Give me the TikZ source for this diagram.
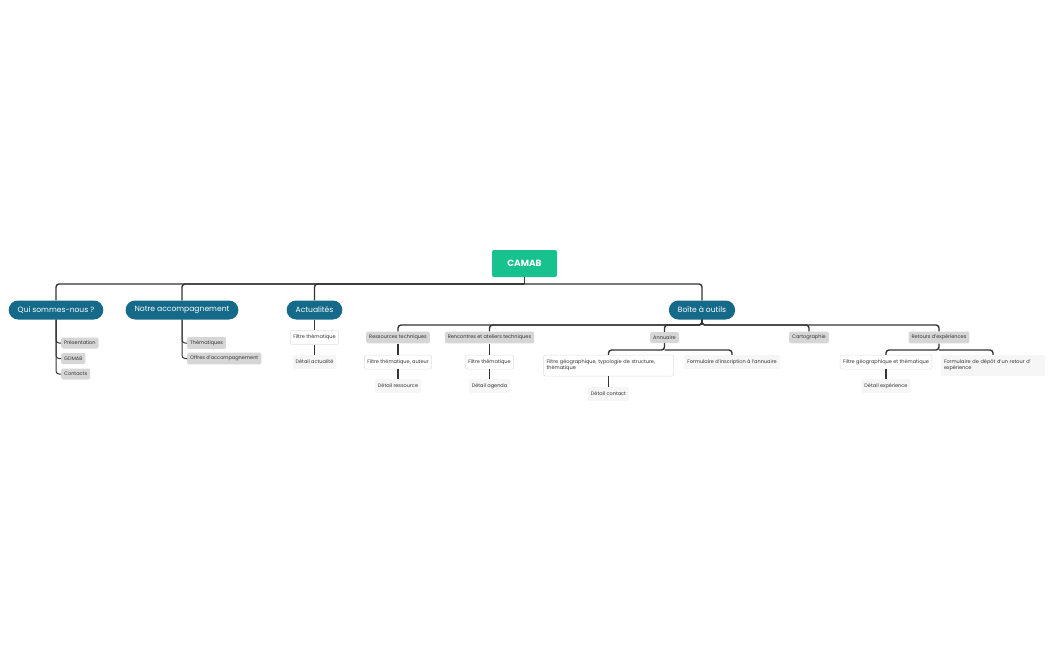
\documentclass[tikz,border=0pt]{standalone}
\usepackage{fontspec}
\setmainfont{Poppins}
\usetikzlibrary{calc}
\definecolor{camabgreen}{HTML}{17C28E}
\definecolor{camabblue}{HTML}{156A89}
\definecolor{leafgray}{HTML}{D6D6D6}
\definecolor{leaflight}{HTML}{F6F6F6}
\definecolor{linegray}{HTML}{333333}
\tikzset{
  root/.style = {fill=camabgreen, text=white, font=\fontsize{9}{10}\selectfont\bfseries, minimum width=65pt, minimum height=27pt, rounded corners=2pt},
  main/.style = {fill=camabblue, text=white, font=\fontsize{7.6}{9}\selectfont, minimum height=19pt, inner xsep=9pt, rounded corners=9.5pt},
  tag/.style = {fill=leafgray, text=black!80, font=\fontsize{5}{6}\selectfont, minimum height=11pt, inner xsep=3pt, rounded corners=2pt},
  box/.style = {fill=white, draw=black!12, line width=0.5pt, text=black!80, font=\fontsize{5}{6}\selectfont, minimum height=14pt, inner xsep=3pt, rounded corners=2pt},
  soft/.style = {fill=leaflight, text=black!80, font=\fontsize{5}{6}\selectfont, minimum height=14pt, inner xsep=3pt, rounded corners=2pt},
  conn/.style = {draw=linegray, line width=1.4pt, rounded corners=3pt},
}
\begin{document}
\begin{tikzpicture}[x=1pt, y=-1pt]
  \useasboundingbox (0,0) rectangle (1050,650);
  % root and first level
  \node[root] (camab) at (524.5,263.5) {CAMAB};
  \node[main] (qui) at (56,310) {Qui sommes-nous ?};
  \node[main] (notre) at (182,310) {Notre accompagnement};
  \node[main] (actu) at (314.5,310) {Actualités};
  \node[main] (boite) at (702,310) {Boîte à outils};
  \coordinate (topbus) at (524.5,284);
  \draw[conn] (camab.south) -- (topbus);
  \foreach \n in {qui, notre, actu, boite}
    \draw[conn] (topbus) -| (\n.north);
  % Qui sommes-nous
  \node[tag, anchor=west] (pres) at (61,343) {Présentation};
  \node[tag, anchor=west] (gdmab) at (61,358.5) {GDMAB};
  \node[tag, anchor=west] (contacts) at (61,374) {Contacts};
  \foreach \n in {pres, gdmab, contacts}
    \draw[conn, line width=1pt] (qui.south) |- (\n.west);
  % Notre accompagnement
  \node[tag, anchor=west] (them) at (187,343) {Thématiques};
  \node[tag, anchor=west] (offres) at (187,358.5) {Offres d'accompagnement};
  \foreach \n in {them, offres}
    \draw[conn, line width=1pt] (notre.south) |- (\n.west);
  % Actualites
  \node[box] (filtreactu) at (314.5,337.5) {Filtre thématique};
  \node[soft] (detailactu) at (314.5,362) {Détail actualité};
  \draw[conn] (actu.south) -- (filtreactu.north);
  \draw[conn] (filtreactu.south) -- (detailactu.north);
  % Boite a outils
  \node[tag] (ress) at (398,337.5) {Ressources techniques};
  \node[tag] (renc) at (489.5,337.5) {Rencontres et ateliers techniques};
  \node[tag] (annu) at (664.5,337.5) {Annuaire};
  \node[tag] (carto) at (809,337.5) {Cartographie};
  \node[tag] (retours) at (939,337.5) {Retours d'expériences};
  \coordinate (outbus) at (702,325);
  \foreach \n in {ress, renc, annu, carto, retours}
    \draw[conn] (boite.south) -- (outbus) -| (\n.north);
  % Ressources / Rencontres
  \node[box] (filtreress) at (398,362) {Filtre thématique, auteur};
  \node[soft] (detailress) at (398,386) {Détail ressource};
  \draw[conn] (ress.south) -- (filtreress.north);
  \draw[conn] (filtreress.south) -- (detailress.north);
  \node[box] (filtrerenc) at (489.5,362) {Filtre thématique};
  \node[soft] (detailrenc) at (489.5,386) {Détail agenda};
  \draw[conn] (renc.south) -- (filtrerenc.north);
  \draw[conn] (filtrerenc.south) -- (detailrenc.north);
  % Annuaire
  \node[box, align=left, text width=124pt, minimum height=21pt] (filtreannu) at (608.5,365.5) {Filtre géographique, typologie de structure,\\thématique};
  \node[soft] (detailannu) at (608.5,394) {Détail contact};
  \node[soft] (formannu) at (732,362) {Formulaire d'inscription à l'annuaire};
  \coordinate (annubus) at (664.5,350);
  \draw[conn] (annu.south) -- (annubus) -| (filtreannu.north);
  \draw[conn] (annubus) -| (formannu.north);
  \draw[conn] (filtreannu.south) -- (detailannu.north);
  % Retours d'experiences
  \node[box] (filtreret) at (886,362) {Filtre géographique et thématique};
  \node[soft] (detailret) at (886,386) {Détail expérience};
  \node[soft, align=left, text width=98pt, minimum height=21pt] (formret) at (993,365.5) {Formulaire de dépôt d'un retour d'\\expérience};
  \coordinate (retbus) at (939,350);
  \draw[conn] (retours.south) -- (retbus) -| (filtreret.north);
  \draw[conn] (retbus) -| (formret.north);
  \draw[conn] (filtreret.south) -- (detailret.north);
\end{tikzpicture}
\end{document}
